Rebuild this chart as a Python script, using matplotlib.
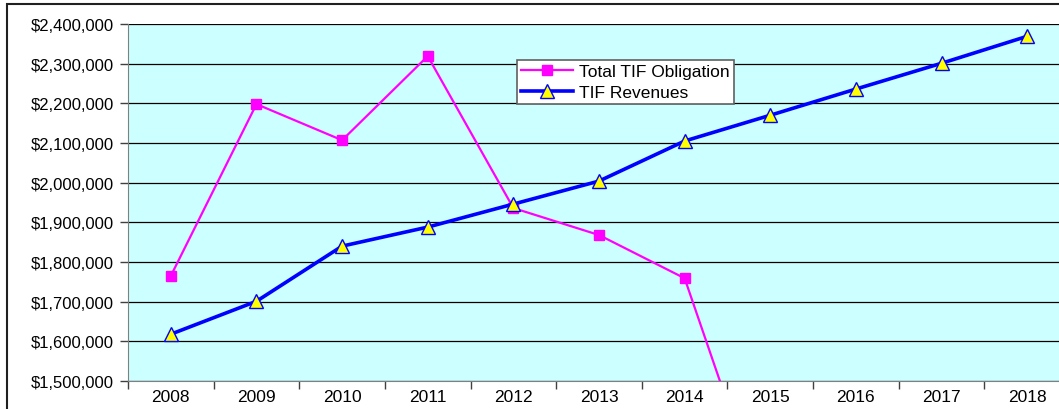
import matplotlib

matplotlib.use("Agg")
import matplotlib.pyplot as plt
from matplotlib.patches import Rectangle
from matplotlib.ticker import FuncFormatter, FixedLocator

plt.rcParams["font.family"] = ["Liberation Sans", "DejaVu Sans"]

years = ["2008", "2009", "2010", "2011", "2012", "2013", "2014", "2015",
         "2016", "2017", "2018"]
obligation = [1765000, 2198000, 2107000, 2319000, 1936000, 1868000, 1759000,
              1130000]
revenues = [1618000, 1701000, 1840000, 1888000, 1946000, 2004000, 2105000,
            2170000, 2236000, 2301000, 2369000]
y_ticks = [1500000, 1600000, 1700000, 1800000, 1900000, 2000000, 2100000,
           2200000, 2300000, 2400000]

W, H = 1059, 410
fig = plt.figure(figsize=(W / 100, H / 100), dpi=100)
fig.patch.set_facecolor("white")

# outer chart border (cropped on the right and bottom in the original)
fig.patches.append(Rectangle((7 / W, -0.2), 1.2, 1.2 - 5 / H,
                             transform=fig.transFigure, fill=False,
                             edgecolor="#202020", linewidth=1.5, zorder=0))

left, right = 128 / W, 1070 / W
bottom, top = 1 - 382 / H, 1 - 25 / H
ax = fig.add_axes([left, bottom, right - left, top - bottom])
ax.set_facecolor("#CCFFFF")

x_obl = range(len(obligation))
x_rev = range(len(revenues))
ax.plot(x_obl, obligation, color="#FF00FF", linewidth=1.6, marker="s",
        markersize=7, markerfacecolor="#FF00FF", markeredgecolor="#FF00FF",
        label="Total TIF Obligation", zorder=3)
ax.plot(x_rev, revenues, color="#0000FF", linewidth=2.6, marker="^",
        markersize=10, markerfacecolor="#FFFF00", markeredgecolor="#0000FF",
        markeredgewidth=1, label="TIF Revenues", zorder=4)

ax.set_xlim(-0.5, len(years) - 0.5)
ax.set_ylim(y_ticks[0], y_ticks[-1])

ax.set_yticks(y_ticks)
ax.yaxis.set_major_formatter(FuncFormatter(lambda v, p: f"${v:,.0f}"))
ax.yaxis.grid(True, color="black", linewidth=0.9)
ax.set_axisbelow(True)

ax.xaxis.set_major_locator(FixedLocator([i - 0.5 for i in range(len(years) + 1)]))
ax.xaxis.set_minor_locator(FixedLocator(list(range(len(years)))))
ax.set_xticklabels([])
ax.set_xticklabels(years, minor=True)
ax.tick_params(axis="x", which="major", direction="out", length=6,
               color="#404040", width=1)
ax.tick_params(axis="x", which="minor", length=0, pad=6, labelsize=12.5)
ax.tick_params(axis="y", direction="out", length=6, color="#404040",
               width=1, labelsize=12, pad=4)

for side in ("top", "right"):
    ax.spines[side].set_visible(False)
ax.spines["left"].set_color("#808080")
ax.spines["bottom"].set_color("#808080")

leg = fig.legend(loc="upper left", bbox_to_anchor=(517 / W, 1 - 61 / H),
                 fontsize=12.5, frameon=True, fancybox=False, framealpha=1,
                 edgecolor="#606060", facecolor="white", borderpad=0.25,
                 labelspacing=0.3, handlelength=3.0, handletextpad=0.3,
                 borderaxespad=0)
leg.get_frame().set_linewidth(1.2)

fig.savefig("out.png", dpi=100)
plt.close(fig)
